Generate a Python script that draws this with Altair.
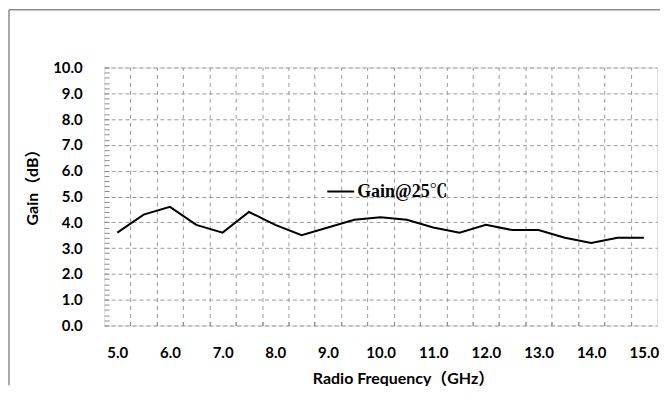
import altair as alt
import pandas as pd

# Data
freq_ghz = [5.0, 5.5, 6.0, 6.5, 7.0, 7.5, 8.0, 8.5, 9.0, 9.5, 10.0,
            10.5, 11.0, 11.5, 12.0, 12.5, 13.0, 13.5, 14.0, 14.5, 15.0]
gain_db = [3.6, 4.3, 4.6, 3.9, 3.6, 4.4, 3.9, 3.5, 3.8, 4.1, 4.2,
           4.1, 3.8, 3.6, 3.9, 3.7, 3.7, 3.4, 3.2, 3.4, 3.4]
series_name = "Gain@25℃"

x_label_values = [5.0, 6.0, 7.0, 8.0, 9.0, 10.0, 11.0, 12.0, 13.0, 14.0, 15.0]
y_label_values = [0, 1, 2, 3, 4, 5, 6, 7, 8, 9, 10]
y_minor_values = [i / 5 for i in range(51)]
half_step = (freq_ghz[1] - freq_ghz[0]) / 2
x_boundaries = [f + half_step for f in freq_ghz[:-1]]
x_domain = [freq_ghz[0] - half_step, freq_ghz[-1] + half_step]

df = pd.DataFrame({"freq": freq_ghz, "gain": gain_db, "series": series_name})

W, H = 555, 259
LABEL_FONT = "Lato, 'Noto Sans CJK SC', sans-serif"
GRID = "#9a9a9a"
FS = 15
TS = 16

xs = alt.Scale(domain=x_domain, nice=False, zero=False)
ys = alt.Scale(domain=[0, 10], nice=False, zero=True)

line = alt.Chart(df).mark_line(color="black", strokeWidth=2).encode(
    x=alt.X("freq:Q", scale=xs, axis=alt.Axis(
        orient="bottom", values=x_label_values, format=".1f", grid=False,
        ticks=False, tickSize=0, domain=False, labelFont=LABEL_FONT,
        labelFontSize=FS, labelFontWeight="bold", labelColor="black",
        labelBaseline="alphabetic", labelPadding=32, labelFlush=False,
        title="Radio Frequency（GHz）", titleFont=LABEL_FONT, titleFontSize=TS,
        titleFontWeight="bold", titleColor="black", titleBaseline="alphabetic",
        titleAlign="center", titleX=300, titleY=58)),
    y=alt.Y("gain:Q", scale=ys, axis=alt.Axis(
        orient="left", values=y_label_values, format=".1f", grid=True,
        gridColor=GRID, gridDash=[4, 3], gridWidth=1, ticks=False, tickSize=0,
        domain=False, labelFont=LABEL_FONT, labelFontSize=FS,
        labelFontWeight="bold", labelColor="black", labelPadding=22,
        labelFlush=False,
        title="Gain（dB）", titleFont=LABEL_FONT, titleFontSize=TS,
        titleFontWeight="bold", titleColor="black", titleAngle=-90,
        titleAlign="center", titleBaseline="middle", titleX=-72, titleY=116)),
    color=alt.Color("series:N", scale=alt.Scale(range=["black"]), legend=alt.Legend(
        orient="none", legendX=223, legendY=110, title=None, padding=0,
        symbolType="stroke", symbolSize=729, symbolStrokeWidth=2,
        labelFont="'Liberation Serif', 'Noto Serif CJK SC', serif",
        labelFontSize=18, labelFontWeight="bold", labelColor="black",
        labelOffset=2)),
)

guides = alt.Chart(df).mark_point(opacity=0).encode(
    x=alt.X("freq:Q", scale=xs, axis=alt.Axis(
        orient="top", offset=-H, values=x_boundaries, grid=True,
        gridColor=GRID, gridDash=[4, 4], gridWidth=1, ticks=True,
        tickSize=4, tickColor="#8c8c8c", labels=False, domain=False, title=None)),
    y=alt.Y("gain:Q", scale=ys, axis=alt.Axis(
        orient="right", offset=-W, values=y_minor_values, grid=False,
        ticks=True, tickSize=5, tickColor="#8c8c8c", labels=False,
        domain=False, title=None)),
)

frame_df = pd.DataFrame({"k": [0]})
outer_left = alt.Chart(frame_df).mark_rule(color="#8c8c8c", strokeWidth=1.5).encode(
    x=alt.value(-95.5), y=alt.value(-58), y2=alt.value(H + 60))
outer_top = alt.Chart(frame_df).mark_rule(color="#8c8c8c", strokeWidth=1.5).encode(
    x=alt.value(-95.5), x2=alt.value(W + 10), y=alt.value(-58))

chart = alt.layer(guides, line, outer_left, outer_top).properties(
    width=W, height=H,
    autosize=alt.AutoSizeParams(type="none"),
    padding={"left": 96.5, "top": 59, "right": 3, "bottom": 60},
).configure_view(stroke="#8c8c8c", strokeWidth=1.5).configure(background="white")

chart.save("out.html", embed_options={"renderer": "svg", "actions": False})
